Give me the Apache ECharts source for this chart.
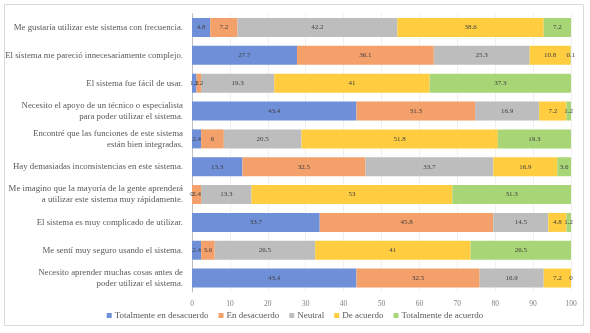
<!DOCTYPE html>
<html>
<head>
<meta charset="utf-8">
<script src="https://cdn.jsdelivr.net/npm/echarts@6/dist/echarts.min.js"></script>
<style>
  html, body { margin: 0; padding: 0; background: #fff; }
  #chart { width: 590px; height: 333px; }
</style>
</head>
<body>
<div id="chart"></div>
<script>
// preguntas, de arriba hacia abajo
const categories = [
  'Me gustaría utilizar este sistema con frecuencia.',
  'El sistema me pareció innecesariamente complejo.',
  'El sistema fue fácil de usar.',
  'Necesito el apoyo de un técnico o especialista\npara poder utilizar el sistema.',
  'Encontré que las funciones de este sistema\nestán bien integradas.',
  'Hay demasiadas inconsistencias en este sistema.',
  'Me imagino que la mayoría de la gente aprenderá\na utilizar este sistema muy rápidamente.',
  'El sistema es muy complicado de utilizar.',
  'Me sentí muy seguro usando el sistema.',
  'Necesito aprender muchas cosas antes de\npoder utilizar el sistema.'
]

const seriesNames = ['Totalmente en desacuerdo', 'En desacuerdo', 'Neutral', 'De acuerdo', 'Totalmente de acuerdo']

const totDesacuerdo = [4.8, 27.7, 1.2, 43.4, 2.4, 13.3, 0, 33.7, 2.4, 43.4]
const enDesacuerdo  = [7.2, 36.1, 1.2, 31.3, 6, 32.5, 2.4, 45.8, 3.6, 32.5]
const neutral       = [42.2, 25.3, 19.3, 16.9, 20.5, 33.7, 13.3, 14.5, 26.5, 16.9]
const deAcuerdo     = [38.6, 10.8, 41, 7.2, 51.8, 16.9, 53, 4.8, 41, 7.2]
const totAcuerdo    = [7.2, 0.1, 37.3, 1.2, 19.3, 3.6, 31.3, 1.2, 26.5, 0]

const colors = ['#6f8fd8', '#f3a06b', '#bdbdbd', '#ffcd3f', '#a8d576']
const values = [totDesacuerdo, enDesacuerdo, neutral, deAcuerdo, totAcuerdo]

const chart = echarts.init(document.getElementById('chart'))

chart.setOption({
  animation: false,
  textStyle: { fontFamily: 'Liberation Serif' },
  graphic: [{
    type: 'rect',
    shape: { x: 4.5, y: 4.5, width: 579, height: 321 },
    style: { fill: 'none', stroke: '#d9d9d9', lineWidth: 1 },
    silent: true
  }],
  legend: {
    data: seriesNames,
    bottom: 8,
    left: 'center',
    itemWidth: 5,
    itemHeight: 5,
    itemGap: 10,
    icon: 'rect',
    textStyle: { fontFamily: 'Liberation Serif', fontSize: 9, color: '#595959', padding: [0, 0, 0, -2] }
  },
  grid: { left: 192, right: 19, top: 13.6, bottom: 41, outerBoundsMode: 'none', containLabel: false },
  xAxis: {
    type: 'value',
    min: 0,
    max: 100,
    interval: 10,
    axisLine: { show: false },
    axisTick: { show: false },
    splitLine: { lineStyle: { color: '#f0f0f0' } },
    axisLabel: { fontFamily: 'Liberation Serif', fontSize: 7.5, color: '#7f7f7f', margin: 8 }
  },
  yAxis: {
    type: 'category',
    inverse: true,
    data: categories,
    axisLine: { lineStyle: { color: '#bfbfbf' } },
    axisTick: { show: false },
    axisLabel: { fontFamily: 'Liberation Serif', fontSize: 8.8, color: '#595959', lineHeight: 11, margin: 9 }
  },
  series: seriesNames.map((name, i) => ({
    name,
    type: 'bar',
    stack: 'total',
    data: values[i],
    barWidth: 19,
    itemStyle: { color: colors[i] },
    label: {
      show: true,
      position: 'inside',
      fontFamily: 'Liberation Serif',
      fontSize: 7,
      color: '#404040'
    }
  }))
})
</script>
</body>
</html>
